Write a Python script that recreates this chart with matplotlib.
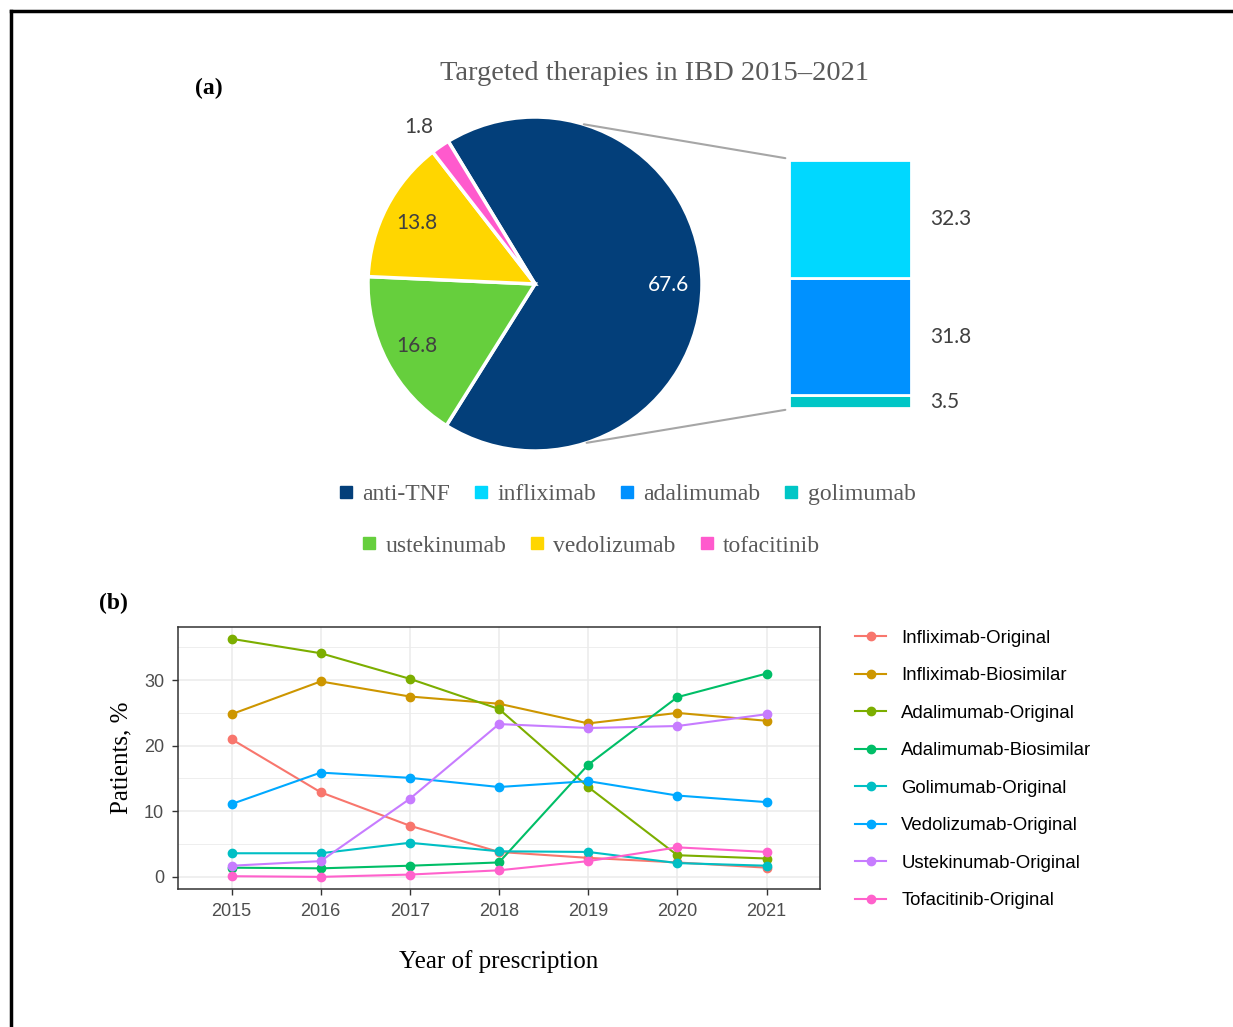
import numpy as np
import matplotlib
matplotlib.use("Agg")
import matplotlib.pyplot as plt
from matplotlib.lines import Line2D
from matplotlib.patches import ConnectionPatch

W, H = 1233, 1027

# ---- panel (a) data ----
pie_labels = ["anti-TNF", "ustekinumab", "vedolizumab", "tofacitinib"]
pie_values = [67.6, 16.8, 13.8, 1.8]
pie_colors = ["#033F7A", "#66CF3D", "#FFD600", "#FF5ACD"]

bar_labels = ["infliximab", "adalimumab", "golimumab"]
bar_values = [32.3, 31.8, 3.5]
bar_colors = ["#00D8FF", "#0091FF", "#00C6C6"]

# ---- panel (b) data ----
years = [2015, 2016, 2017, 2018, 2019, 2020, 2021]
series_names = ["Infliximab-Original", "Infliximab-Biosimilar", "Adalimumab-Original",
                "Adalimumab-Biosimilar", "Golimumab-Original", "Vedolizumab-Original",
                "Ustekinumab-Original", "Tofacitinib-Original"]
infliximab_orig = [21.0, 12.9, 7.8, 3.8, 2.9, 2.2, 1.4]
infliximab_bio = [24.8, 29.8, 27.5, 26.4, 23.4, 25.0, 23.8]
adalimumab_orig = [36.3, 34.1, 30.2, 25.6, 13.7, 3.3, 2.8]
adalimumab_bio = [1.4, 1.3, 1.7, 2.2, 17.1, 27.4, 31.0]
golimumab_orig = [3.6, 3.6, 5.2, 3.9, 3.8, 2.1, 1.7]
vedolizumab_orig = [11.1, 15.9, 15.1, 13.7, 14.6, 12.4, 11.4]
ustekinumab_orig = [1.7, 2.4, 11.9, 23.3, 22.7, 23.0, 24.8]
tofacitinib_orig = [0.1, 0.0, 0.35, 1.0, 2.4, 4.5, 3.8]
line_colors = ["#F8766D", "#CD9600", "#7CAE00", "#00BE67",
               "#00BFC4", "#00A9FF", "#C77CFF", "#FF61CC"]


def box(x0, y0, x1, y1):
    """pixel box (top-left origin) -> figure fraction rect"""
    return [x0 / W, 1 - y1 / H, (x1 - x0) / W, (y1 - y0) / H]


fig = plt.figure(figsize=(W / 100, H / 100), dpi=100)
serif = "Liberation Serif"
sans_lbl = "Lato"
gray_txt = "#404040"

# figure frame (top and left edges visible)
fig.add_artist(Line2D([11 / W, 11 / W], [0, 1 - 11 / H], color="black", lw=2.5))
fig.add_artist(Line2D([11 / W, 1], [1 - 11 / H, 1 - 11 / H], color="black", lw=2.5))

fig.text(209 / W, 1 - 88 / H, "(a)", family=serif, weight="bold", fontsize=17,
         ha="center", va="center")
fig.text(113 / W, 1 - 603 / H, "(b)", family=serif, weight="bold", fontsize=17,
         ha="center", va="center")
fig.text(654 / W, 1 - 73 / H, "Targeted therapies in IBD 2015\u20132021", family=serif,
         fontsize=20.5, color="#595959", ha="center", va="center")

# ---- pie ----
R = 1.03
axp = fig.add_axes(box(535 - 167 * R, 284 - 167 * R, 535 + 167 * R, 284 + 167 * R))
start = 121.3
wedges, _ = axp.pie(pie_values, colors=pie_colors, startangle=start, counterclock=False,
                    wedgeprops=dict(edgecolor="white", linewidth=2.5))
axp.set_xlim(-R, R)
axp.set_ylim(-R, R)
axp.set_aspect("equal")
ang = start
for i, v in enumerate(pie_values):
    span = v / sum(pie_values) * 360
    mid = np.deg2rad(ang - span / 2 + (2 if v < 5 else 0))
    ang -= span
    r = 1.17 if v < 5 else 0.8
    col = "white" if i == 0 else gray_txt
    axp.text(r * np.cos(mid), r * np.sin(mid), f"{v}", family=sans_lbl, fontsize=15,
             color=col, ha="center", va="center")

# ---- stacked bar ----
axb = fig.add_axes(box(789, 160, 911, 408))
bottom = 0.0
for lab, v, c in reversed(list(zip(bar_labels, bar_values, bar_colors))):
    axb.bar(0, v, bottom=bottom, width=1, color=c, edgecolor="white", linewidth=2)
    axb.text(0.655, bottom + v / 2, f"{v}", family=sans_lbl, fontsize=15, color=gray_txt,
             ha="left", va="center", clip_on=False)
    bottom += v
axb.set_xlim(-0.5, 0.5)
axb.set_ylim(0, sum(bar_values))
axb.axis("off")

# connector lines
for a_deg, yb in [(73, sum(bar_values) + 0.5), (-72, -0.5)]:
    a = np.deg2rad(a_deg)
    con = ConnectionPatch(xyA=(np.cos(a), np.sin(a)), coordsA=axp.transData,
                          xyB=(-0.53, yb), coordsB=axb.transData, color="#A6A6A6", lw=1.5)
    fig.add_artist(con)


# top legend (two rows)
def sq(c):
    return Line2D([], [], marker="s", ls="", color=c, markersize=8)


row1 = [("anti-TNF", pie_colors[0])] + list(zip(bar_labels, bar_colors))
row2 = list(zip(pie_labels[1:], pie_colors[1:]))
for items, cx, y in [(row1, 627, 494), (row2, 591, 546)]:
    fig.legend([sq(c) for _, c in items], [l for l, _ in items], loc="center",
               bbox_to_anchor=(cx / W, 1 - y / H), ncol=len(items), frameon=False,
               handlelength=0.6, handletextpad=0.4, columnspacing=1.0,
               prop=dict(family=serif, size=17), labelcolor="#595959")

# ---- line chart ----
ax = fig.add_axes(box(178, 627, 820, 889))
series = [infliximab_orig, infliximab_bio, adalimumab_orig, adalimumab_bio,
          golimumab_orig, vedolizumab_orig, ustekinumab_orig, tofacitinib_orig]
for name, vals, c in zip(series_names, series, line_colors):
    ax.plot(years, vals, color=c, lw=1.5, marker="o", markersize=6, label=name)
ax.set_xlim(2014.4, 2021.6)
ax.set_ylim(-1.85, 38.1)
ax.set_xticks(years)
ax.set_yticks([0, 10, 20, 30])
ax.set_yticks([5, 15, 25, 35], minor=True)
ax.grid(True, which="major", color="#EBEBEB", lw=1.1)
ax.grid(True, which="minor", axis="y", color="#EBEBEB", lw=0.6)
ax.set_axisbelow(True)
for s in ax.spines.values():
    s.set_color("#333333")
    s.set_linewidth(1.1)
ax.tick_params(which="major", colors="#333333", labelcolor="#4D4D4D", labelsize=13,
               length=4, width=1.0, pad=6)
ax.tick_params(which="minor", length=0)
for t in ax.get_xticklabels() + ax.get_yticklabels():
    t.set_family("Liberation Sans")
ax.set_ylabel("Patients, %", family=serif, fontsize=18, labelpad=8)
ax.set_xlabel("Year of prescription", family=serif, fontsize=18, labelpad=22)
ax.legend(loc="upper left", bbox_to_anchor=(838 / W, 1 - 613 / H),
          bbox_transform=fig.transFigure, frameon=False, handlelength=1.7,
          handletextpad=0.8, labelspacing=1.1, prop=dict(family="Liberation Sans", size=13.4))

fig.savefig("out.png", dpi=100)
